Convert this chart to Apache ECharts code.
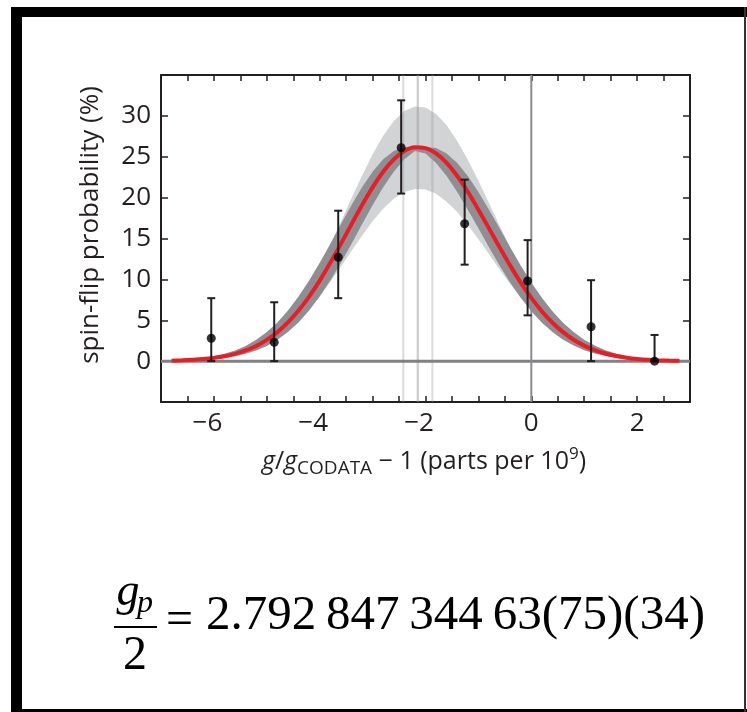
<!DOCTYPE html>
<html><head><meta charset="utf-8">
<script src="https://cdn.jsdelivr.net/npm/echarts@6/dist/echarts.min.js"></script>
<style>html,body{margin:0;padding:0;background:#fff}#c{width:747px;height:712px}</style>
</head><body><div id="c"></div>
<script>
// ---- data ----
const fitX = [-6.8,-6.6,-6.4,-6.2,-6.0,-5.8,-5.6,-5.4,-5.2,-5.0,-4.8,-4.6,-4.4,-4.2,-4.0,-3.8,-3.6,-3.4,-3.2,-3.0,-2.8,-2.6,-2.4,-2.2,-2.0,-1.8,-1.6,-1.4,-1.2,-1.0,-0.8,-0.6,-0.4,-0.2,0.0,0.2,0.4,0.6,0.8,1.0,1.2,1.4,1.6,1.8,2.0,2.2,2.4,2.6,2.8];
const fitY = [0.06,0.10,0.16,0.25,0.39,0.59,0.89,1.30,1.86,2.60,3.55,4.74,6.19,7.90,9.85,12.02,14.34,16.73,19.07,21.26,23.17,24.68,25.71,26.17,26.06,25.41,24.24,22.64,20.70,18.53,16.24,13.93,11.70,9.61,7.74,6.09,4.70,3.55,2.62,1.90,1.34,0.93,0.63,0.42,0.27,0.17,0.11,0.07,0.04];
const darkUpper = [0.10,0.16,0.25,0.39,0.59,0.89,1.30,1.86,2.60,3.55,4.74,6.19,7.90,9.85,12.02,14.34,16.73,19.07,21.26,23.17,24.68,25.71,26.17,26.20,26.20,26.06,25.41,24.24,22.64,20.70,18.53,16.24,13.93,11.70,9.61,7.74,6.09,4.70,3.55,2.62,1.90,1.34,0.93,0.63,0.42,0.27,0.17,0.11,0.07];
const darkLower = [0.03,0.06,0.10,0.16,0.25,0.39,0.59,0.89,1.30,1.86,2.60,3.55,4.74,6.19,7.90,9.85,12.02,14.34,16.73,19.07,21.26,23.17,24.68,25.71,25.41,24.24,22.64,20.70,18.53,16.24,13.93,11.70,9.61,7.74,6.09,4.70,3.55,2.62,1.90,1.34,0.93,0.63,0.42,0.27,0.17,0.11,0.07,0.04,0.02];
const lightUpper = [0.07,0.12,0.19,0.30,0.46,0.70,1.06,1.55,2.21,3.09,4.22,5.64,7.37,9.40,11.72,14.30,17.06,19.91,22.69,25.30,27.57,29.37,30.59,31.14,31.01,30.24,28.85,26.94,24.63,22.05,19.33,16.58,13.92,11.44,9.21,7.25,5.59,4.22,3.12,2.26,1.59,1.11,0.75,0.50,0.32,0.20,0.13,0.08,0.05];
const lightLower = [0.05,0.08,0.13,0.20,0.31,0.47,0.72,1.05,1.50,2.09,2.86,3.82,4.98,6.36,7.93,9.68,11.54,13.47,15.35,17.11,18.65,19.87,20.70,21.07,20.98,20.46,19.51,18.23,16.66,14.92,13.07,11.21,9.42,7.74,6.23,4.90,3.78,2.86,2.11,1.53,1.08,0.75,0.51,0.34,0.22,0.14,0.09,0.06,0.03];
const pointX = [-6.05,-4.86,-3.65,-2.46,-1.26,-0.07,1.13,2.33];
const pointY = [2.8,2.3,12.7,26.1,16.8,9.8,4.2,0.0];
const errLow = [0,0,7.7,20.5,11.8,5.6,0,0];
const errHigh = [7.7,7.2,18.4,31.9,22.2,14.8,9.9,3.2];
const centerLines = [-2.42,-2.145,-1.87];
const xTickLabels = [-6,-4,-2,0,2];
const yTickLabels = [0,5,10,15,20,25,30];

const AX = '#231f20';
const FONT = '"Open Sans", "Noto Sans", sans-serif';
const chart = echarts.init(document.getElementById('c'), null, {renderer:'canvas'});

function bandSeries(up, lo, color, z) {
  return {
    type:'custom', z:z, silent:true, data:[[fitX[0], 0]],
    renderItem:function(params, api){
      const pts = [];
      for (let i=0;i<fitX.length;i++) pts.push(api.coord([fitX[i], up[i]]));
      for (let i=fitX.length-1;i>=0;i--) pts.push(api.coord([fitX[i], lo[i]]));
      return {type:'polygon', shape:{points:pts, smooth:0}, style:{fill:color, stroke:null}};
    }
  };
}
function near(v, arr){ return arr.some(t=>Math.abs(v-t)<1e-6); }
function fmtX(v){
  if(!near(v,xTickLabels)) return '';
  const r = Math.round(v);
  return r<0 ? '\u2212'+Math.abs(r)+'\u2002' : String(r);
}
function txt(x, y, text, font, align, extra){
  return Object.assign({type:'text', x:x, y:y, style:{text:text, font:font, fill:'#000',
    align:align, verticalAlign:'middle', textAlign:align, textVerticalAlign:'middle'}}, extra||{});
}

const option = {
  animation:false,
  grid:{left:161, top:75, right:57, bottom:310},
  xAxis:[
    {type:'value', min:-7, max:3, interval:0.5, position:'bottom',
     axisLine:{show:true, onZero:false, lineStyle:{color:AX, width:2}},
     axisTick:{show:true, inside:true, length:6, lineStyle:{color:AX, width:1.5}},
     axisLabel:{formatter:fmtX, color:AX, fontFamily:FONT, fontSize:26, margin:9},
     splitLine:{show:false}},
    {type:'value', min:-7, max:3, interval:0.5, position:'top',
     axisLine:{show:true, onZero:false, lineStyle:{color:AX, width:2}},
     axisTick:{show:true, inside:true, length:6, lineStyle:{color:AX, width:1.5}},
     axisLabel:{show:false}, splitLine:{show:false}}
  ],
  yAxis:[
    {type:'value', min:-5, max:35, interval:5, position:'left',
     axisLine:{show:true, onZero:false, lineStyle:{color:AX, width:2}},
     axisTick:{show:true, inside:true, length:7, lineStyle:{color:AX, width:1.5}},
     axisLabel:{formatter:v=>near(v,yTickLabels)?String(Math.round(v)):'', color:AX, fontFamily:FONT, fontSize:26, margin:10},
     splitLine:{show:false}},
    {type:'value', min:-5, max:35, interval:5, position:'right',
     axisLine:{show:true, onZero:false, lineStyle:{color:AX, width:2}},
     axisTick:{show:true, inside:true, length:7, lineStyle:{color:AX, width:1.5}},
     axisLabel:{show:false}, splitLine:{show:false}}
  ],
  series:[
    bandSeries(lightUpper, lightLower, '#d2d3d5', 1),
    bandSeries(darkUpper, darkLower, '#8e8f93', 2),
    {type:'custom', z:3, silent:true, data:centerLines.map(x=>[x]),
     renderItem:function(params, api){
       const x = api.value(0);
       const a = api.coord([x,35]), b = api.coord([x,-5]);
       const mid = params.dataIndex===1;
       return {type:'line', shape:{x1:a[0],y1:a[1],x2:b[0],y2:b[1]},
         style:{stroke: mid?'rgba(150,150,150,0.45)':'rgba(150,150,150,0.35)', lineWidth: mid?2.5:2}};
     }},
    {type:'custom', z:3, silent:true, data:[[0,0]],
     renderItem:function(params, api){
       const h1 = api.coord([-7,0]), h2 = api.coord([3,0]);
       const v1 = api.coord([0,35]), v2 = api.coord([0,-5]);
       return {type:'group', children:[
         {type:'line', shape:{x1:h1[0],y1:h1[1],x2:h2[0],y2:h2[1]}, style:{stroke:'#808184', lineWidth:3}},
         {type:'line', shape:{x1:v1[0],y1:v1[1],x2:v2[0],y2:v2[1]}, style:{stroke:'#8a8b8e', lineWidth:2}}
       ]};
     }},
    {type:'line', z:4, silent:true, data:fitX.map((x,i)=>[x,fitY[i]]), smooth:0.4, showSymbol:false,
     lineStyle:{color:'#ec1c24', width:4}},
    {type:'custom', z:5, silent:true, data:pointX.map((x,i)=>[x, errLow[i], errHigh[i]]),
     renderItem:function(params, api){
       const x = api.value(0);
       const lo = api.coord([x, api.value(1)]), hi = api.coord([x, api.value(2)]);
       const w = 4, st = {stroke:AX, lineWidth:2};
       return {type:'group', children:[
         {type:'line', shape:{x1:lo[0],y1:lo[1],x2:hi[0],y2:hi[1]}, style:st},
         {type:'line', shape:{x1:hi[0]-w,y1:hi[1],x2:hi[0]+w,y2:hi[1]}, style:st},
         {type:'line', shape:{x1:lo[0]-w,y1:lo[1],x2:lo[0]+w,y2:lo[1]}, style:st}
       ]};
     }},
    {type:'scatter', z:6, silent:true, data:pointX.map((x,i)=>[x,pointY[i]]), symbol:'circle', symbolSize:9,
     itemStyle:{color:'#000'}}
  ],
  graphic:[
    {type:'rect', shape:{x:11,y:7,width:11,height:705}, style:{fill:'#000'}},
    {type:'rect', shape:{x:11,y:7,width:736,height:10}, style:{fill:'#000'}},
    {type:'rect', shape:{x:11,y:709,width:736,height:3}, style:{fill:'#000'}},
    {type:'rect', shape:{x:744,y:7,width:2,height:705}, style:{fill:'#333'}},
    {type:'text', x:91, y:225, rotation:Math.PI/2,
     style:{text:'spin-flip probability (%)', font:'26px '+FONT, fill:AX, align:'center', verticalAlign:'middle', textAlign:'center', textVerticalAlign:'middle'}},
    {type:'text', x:424, y:462,
     style:{text:'{i|g}{n|/}{i|g}{sub|CODATA}{n| \u2212 1 (parts per 10}{sup|9}{n|)}', fill:AX,
       align:'center', verticalAlign:'middle', textAlign:'center', textVerticalAlign:'middle',
       rich:{
         n:{fontFamily:FONT, fontSize:25, lineHeight:32, verticalAlign:'middle', fill:AX},
         i:{fontFamily:FONT, fontSize:25, fontStyle:'italic', lineHeight:32, verticalAlign:'middle', fill:AX},
         sub:{fontFamily:FONT, fontSize:19, lineHeight:19, verticalAlign:'bottom', fill:AX},
         sup:{fontFamily:FONT, fontSize:17, lineHeight:17, verticalAlign:'top', fill:AX}
       }}},
    txt(128, 593, 'g', 'italic 46px "Liberation Serif", serif', 'center'),
    txt(145, 604, 'p', 'italic 32px "Liberation Serif", serif', 'center'),
    {type:'line', shape:{x1:114,y1:627,x2:157,y2:627}, style:{stroke:'#000', lineWidth:2}},
    txt(135, 656, '2', '48px "Liberation Serif", serif', 'center'),
    txt(166, 621, '=', '48px "Liberation Serif", serif', 'left'),
    txt(206, 616, '2.792\u2009847\u2009344\u200963(75)(34)', '49px "Liberation Serif", serif', 'left')
  ]
};
chart.setOption(option);
</script></body></html>
